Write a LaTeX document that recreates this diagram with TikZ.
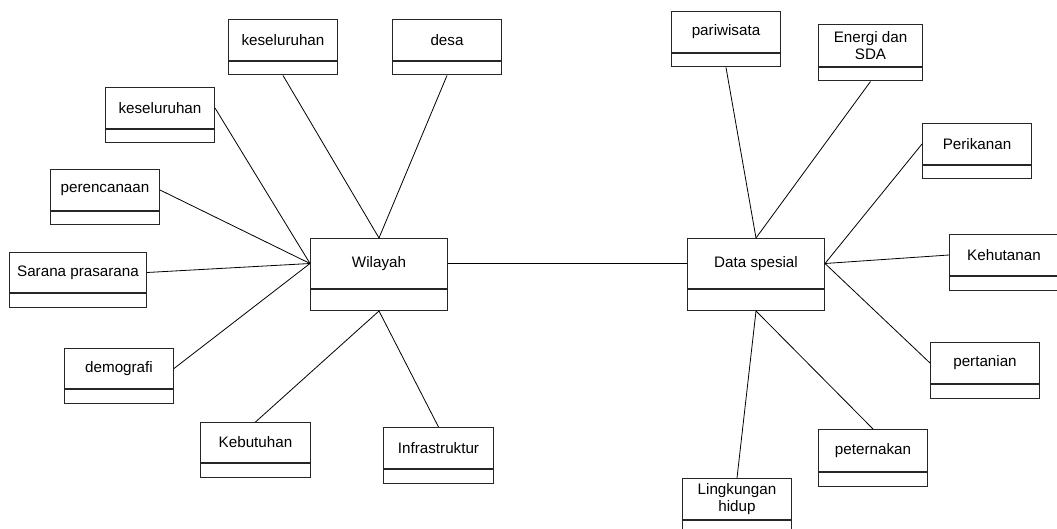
\documentclass[tikz,border=0pt]{standalone}
\usepackage{fontspec}
\setmainfont{Liberation Sans}
\begin{document}
\begin{tikzpicture}[x=1pt,y=-1pt,
  head/.style={draw=black!85, line width=1pt, anchor=north west, inner sep=0pt,
    minimum height=41pt, align=center,
    font=\fontsize{15.2}{17.5}\selectfont},
  foot/.style={draw=black!85, line width=1pt, anchor=north west, inner sep=0pt,
    minimum height=13.5pt},
  link/.style={draw=black, line width=0.8pt}]
\clip (0,0) rectangle (1057,529);
\fill[white] (0,0) rectangle (1057,529);

% central classes
\node[head, minimum width=137pt, minimum height=50pt] (wil) at (310,238) {Wilayah};
\node[foot, minimum width=137pt, minimum height=21pt] (wilf) at (wil.south west) {};
\node[head, minimum width=137pt, minimum height=50pt] (data) at (687,238) {Data spesial};
\node[foot, minimum width=137pt, minimum height=21pt] (dataf) at (data.south west) {};

% classes around Wilayah
\node[head, minimum width=109pt] (kesT) at (228,19) {keseluruhan};
\node[foot, minimum width=109pt] (kesTf) at (kesT.south west) {};
\node[head, minimum width=109pt] (desa) at (392,19) {desa};
\node[foot, minimum width=109pt] (desaf) at (desa.south west) {};
\node[head, minimum width=109pt] (kesL) at (105,87) {keseluruhan};
\node[foot, minimum width=109pt] (kesLf) at (kesL.south west) {};
\node[head, minimum width=109pt] (peren) at (50,169) {perencanaan};
\node[foot, minimum width=109pt] (perenf) at (peren.south west) {};
\node[head, minimum width=137pt, minimum height=40pt] (sarana) at (9,252) {Sarana prasarana};
\node[foot, minimum width=137pt, minimum height=14pt] (saranaf) at (sarana.south west) {};
\node[head, minimum width=109pt, minimum height=40pt] (demo) at (64,348) {demografi};
\node[foot, minimum width=109pt, minimum height=14pt] (demof) at (demo.south west) {};
\node[head, minimum width=110pt, minimum height=40pt] (kebut) at (200,422) {Kebutuhan};
\node[foot, minimum width=110pt, minimum height=14pt] (kebutf) at (kebut.south west) {};
\node[head, minimum width=110pt] (infra) at (383,427) {Infrastruktur};
\node[foot, minimum width=110pt] (infraf) at (infra.south west) {};

% classes around Data spesial
\node[head, minimum width=109pt] (pari) at (671,11) {pariwisata};
\node[foot, minimum width=109pt] (parif) at (pari.south west) {};
\node[head, minimum width=104pt, minimum height=42pt] (energi) at (818,24) {Energi dan\\SDA};
\node[foot, minimum width=104pt] (energif) at (energi.south west) {};
\node[head, minimum width=109pt] (perik) at (922,123) {Perikanan};
\node[foot, minimum width=109pt] (perikf) at (perik.south west) {};
\node[head, minimum width=109pt] (kehut) at (949,234) {Kehutanan};
\node[foot, minimum width=109pt, minimum height=14pt] (kehutf) at (kehut.south west) {};
\node[head, minimum width=109pt] (pert) at (930,342) {pertanian};
\node[foot, minimum width=109pt, minimum height=14pt] (pertf) at (pert.south west) {};
\node[head, minimum width=109pt, minimum height=42pt] (petern) at (818,429) {peternakan};
\node[foot, minimum width=109pt] (peternf) at (petern.south west) {};
\node[head, minimum width=109pt] (lingk) at (682,478) {Lingkungan\\hidup};
\node[foot, minimum width=109pt, minimum height=14pt] (lingkf) at (lingk.south west) {};

% associations of Wilayah
\draw[link] (kesTf.south) -- (wil.north);
\draw[link] (desaf.south) -- (wil.north);
\draw[link] (kesL.east) -- (wil.west);
\draw[link] (peren.east) -- (wil.west);
\draw[link] (sarana.east) -- (wil.west);
\draw[link] (demo.east) -- (wil.west);
\draw[link] (kebut.north) -- (wilf.south);
\draw[link] (infra.north) -- (wilf.south);

% link between the two central classes
\draw[link] (wil.east) -- (data.west);

% associations of Data spesial
\draw[link] (parif.south) -- (data.north);
\draw[link] (energif.south) -- (data.north);
\draw[link] (perik.west) -- (data.east);
\draw[link] (kehut.west) -- (data.east);
\draw[link] (pert.west) -- (data.east);
\draw[link] (petern.north) -- (dataf.south);
\draw[link] (lingk.north) -- (dataf.south);
\end{tikzpicture}
\end{document}
